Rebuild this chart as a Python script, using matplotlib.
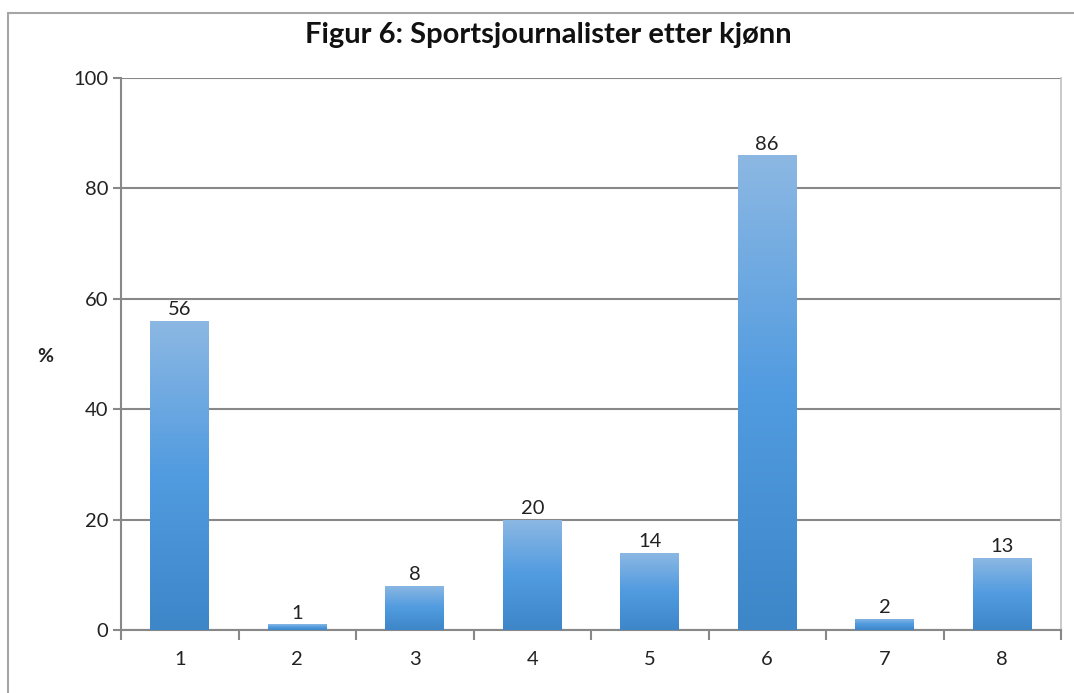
import numpy as np
import matplotlib.pyplot as plt
from matplotlib.colors import LinearSegmentedColormap
from matplotlib.patches import Rectangle

# data
categories = [1, 2, 3, 4, 5, 6, 7, 8]
values = [56, 1, 8, 20, 14, 86, 2, 13]
labels = ["56", "1", "8", "20", "14", "86", "2", "13"]
yticks = [0, 20, 40, 60, 80, 100]

plt.rcParams['font.family'] = ['Lato', 'DejaVu Sans']

fig = plt.figure(figsize=(10.74, 6.93), dpi=100)
W, H = 1074, 693

# outer chart-area border (only left and top visible in the crop)
fig.patches.append(Rectangle((8 / W, -0.1), 1.2, (H - 13) / H + 0.1,
                             transform=fig.transFigure, fill=False,
                             edgecolor='#a6a6a6', linewidth=1.5))

ax = fig.add_axes([121 / W, (H - 630) / H, (1061 - 121) / W, (630 - 78) / H])

grad = LinearSegmentedColormap.from_list('excel_blue', ['#3d86c8', '#519be0', '#8cb8e3'])
g = np.linspace(0, 1, 256).reshape(-1, 1)

x = np.arange(len(categories))
width = 0.5
for xi, v, lab in zip(x, values, labels):
    bar = ax.bar(xi, v, width=width, color='none', edgecolor='none')[0]
    im = ax.imshow(g, cmap=grad, origin='lower', aspect='auto',
                   extent=[xi - width / 2, xi + width / 2, 0, v], zorder=3)
    im.set_clip_path(bar)
    ax.text(xi, v + 0.5, lab, ha='center', va='bottom', fontsize=14.5, color='#222222')

ax.set_xlim(-0.5, len(categories) - 0.5)
ax.set_ylim(0, 100)

# y axis
ax.set_yticks(yticks)
ax.set_yticklabels([str(t) for t in yticks], fontsize=14.5, color='#222222')
ax.yaxis.grid(True, color='#888888', linewidth=1.5)
ax.set_axisbelow(True)
ax.tick_params(axis='y', length=6, width=1.5, color='#888888', pad=3)

# x axis: tick marks between categories, labels in the middle
ax.set_xticks(np.arange(-0.5, len(categories), 1.0))
ax.set_xticklabels([])
ax.set_xticks(x, minor=True)
ax.set_xticklabels([str(c) for c in categories], minor=True, fontsize=14.5, color='#222222')
ax.tick_params(axis='x', which='major', length=7, width=1.5, color='#888888')
ax.tick_params(axis='x', which='minor', length=0, pad=15)

for s in ['left', 'bottom']:
    ax.spines[s].set_color('#888888')
    ax.spines[s].set_linewidth(1.5)
ax.spines['top'].set_visible(False)
ax.spines['right'].set_color('#c0c0c0')
ax.spines['right'].set_linewidth(1.2)

fig.text(45 / W, 1 - 357 / H, '%', ha='center', va='center', fontsize=14,
         fontweight='bold', color='#222222')
fig.text(548 / W, 1 - 35 / H, 'Figur 6: Sportsjournalister etter kjønn',
         ha='center', va='center', fontsize=21, fontweight='bold', color='#111111')

fig.savefig('out.png', dpi=100)
